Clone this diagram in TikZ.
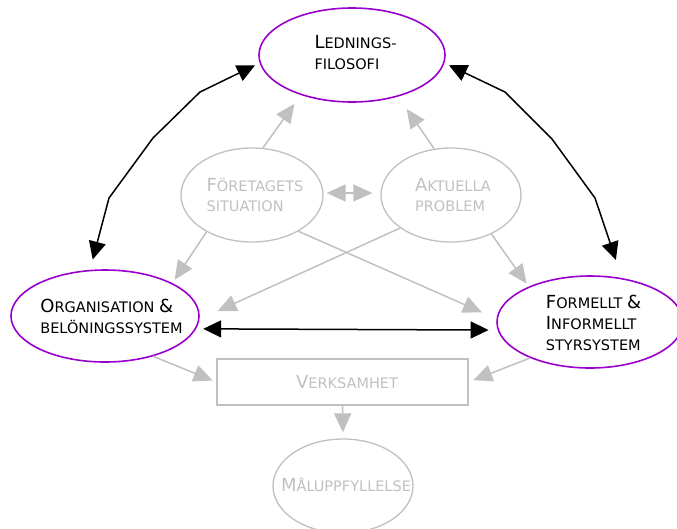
\documentclass[tikz,border=0pt]{standalone}
\usepackage{fontspec}
\setmainfont{DejaVu Sans}
\usetikzlibrary{arrows.meta,shapes.geometric}
\definecolor{ruleviolet}{HTML}{9900CC}
\definecolor{softgray}{HTML}{C0C0C0}
% initial capital of a small-caps word
\newcommand\Cap[1]{{\fontsize{18}{21}\selectfont #1}}

\begin{document}
\begin{tikzpicture}[x=1pt,y=-1pt,
  font=\fontsize{14.5}{21}\selectfont,
  keybox/.style={ellipse, draw=ruleviolet, line width=1.6pt, inner sep=0pt},
  keytext/.style={align=left, text=black, inner sep=0pt},
  sidebox/.style={ellipse, draw=softgray, line width=1.3pt, inner sep=0pt},
  sidetext/.style={align=left, text=softgray, inner sep=0pt},
  workbox/.style={rectangle, draw=softgray, line width=1.3pt, inner sep=0pt,
    minimum width=251pt, minimum height=46pt},
  grayarrow/.style={draw=softgray, line width=1.5pt,
    -{Triangle[length=19pt,width=17pt]}},
  graydouble/.style={draw=softgray, line width=1.5pt,
    {Triangle[length=19pt,width=17pt]}-{Triangle[length=19pt,width=17pt]}},
  linkarrow/.style={draw=black, line width=1.5pt, line join=round,
    {Triangle[length=18pt,width=17pt]}-{Triangle[length=18pt,width=17pt]}}
]
\useasboundingbox (0,0) rectangle (677,528);

% main concepts
\node[keybox, minimum width=186pt, minimum height=94pt,
  label={[keytext, xshift=3.5pt, yshift=2pt]center:\Cap{L}EDNINGS-\\FILOSOFI}]
  (led) at (352,55) {};
\node[keybox, minimum width=188pt, minimum height=92pt,
  label={[keytext, xshift=6.5pt, yshift=0pt]center:\Cap{O}RGANISATION \Cap{\&}\\BELÖNINGSSYSTEM}]
  (org) at (105,316) {};
\node[keybox, minimum width=186pt, minimum height=92pt,
  label={[keytext, xshift=3.5pt, yshift=-1pt]center:\Cap{F}ORMELLT \Cap{\&}\\\Cap{I}NFORMELLT\\STYRSYSTEM}]
  (form) at (590,322) {};

% context and outcome
\node[sidebox, minimum width=142pt, minimum height=94pt,
  label={[sidetext, xshift=3pt, font=\fontsize{14.5}{20}\selectfont]center:\Cap{F}ÖRETAGETS\\SITUATION}]
  (fs) at (252,195) {};
\node[sidebox, minimum width=140pt, minimum height=94pt,
  label={[sidetext, xshift=2pt, font=\fontsize{14.5}{20}\selectfont]center:\Cap{A}KTUELLA\\PROBLEM}]
  (ap) at (451,195) {};
\node[workbox, label={[sidetext, xshift=4.5pt]center:\Cap{V}ERKSAMHET}]
  (verk) at (342.5,382) {};
\node[sidebox, minimum width=140pt, minimum height=94pt,
  label={[sidetext, xshift=3pt, yshift=1pt]center:\Cap{M}ÅLUPPFYLLELSE}]
  (mal) at (343,486) {};

% bends of the curved links
\coordinate (lb1) at (200,92);
\coordinate (lb2) at (153,138);
\coordinate (lb3) at (109,198);
\coordinate (rb1) at (505,92);
\coordinate (rb2) at (552,139);
\coordinate (rb3) at (595,198);

% influences (gray)
\draw[grayarrow, shorten >=10.8pt] (fs.77) -- (led.218);
\draw[grayarrow, shorten >=15pt] (ap.110) -- (led.318);
\draw[graydouble, shorten <=3pt, shorten >=8pt]
  ([yshift=2pt]fs.east) -- ([yshift=2pt]ap.west);
\draw[grayarrow, shorten >=4pt] (fs.219) -- (org.26);
\draw[grayarrow, shorten >=15.8pt] (fs.322) -- (form.178.4);
\draw[grayarrow, shorten >=19.7pt] (ap.213) -- (org.358.8);
\draw[grayarrow, shorten >=3.7pt] (ap.316) -- (form.150);
\draw[grayarrow, shorten >=4pt] (org.320) -- (verk.west);
\draw[grayarrow, shorten >=5pt] (form.211) -- (verk.east);
\draw[grayarrow, shorten >=6pt] (verk.south) -- (mal.north);

% mutual links (black)
\draw[linkarrow, shorten <=5pt, shorten >=10.6pt]
  (led.185) -- (lb1) -- (lb2) -- (lb3) -- (org.108);
\draw[linkarrow, shorten <=5pt, shorten >=19pt]
  (led.-5) -- (rb1) -- (rb2) -- (rb3) -- (form.54.5);
\draw[linkarrow, shorten <=7pt, shorten >=9pt] (org.352.5) -- (form.185.6);
\end{tikzpicture}
\end{document}
